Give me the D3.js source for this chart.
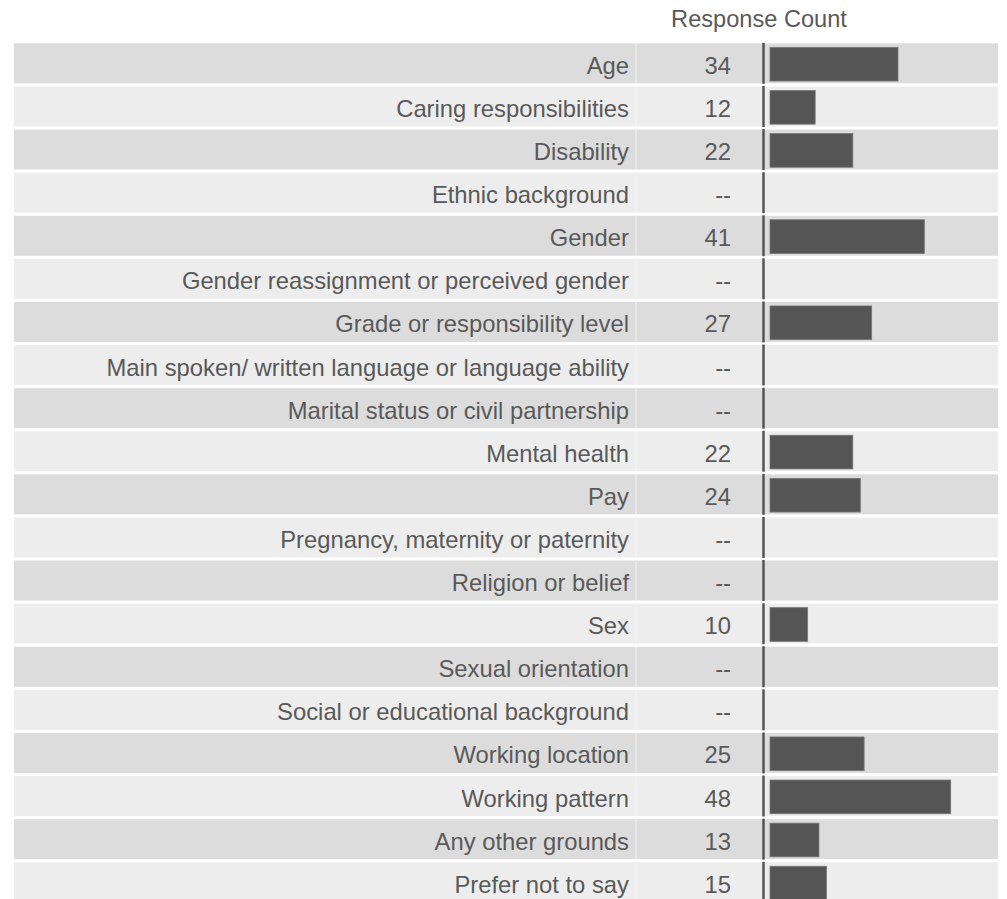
<!DOCTYPE html>
<html>
<head>
<meta charset="utf-8">
<script src="https://cdn.jsdelivr.net/npm/d3@7"></script>
<style>
  html, body { margin: 0; padding: 0; background: #ffffff; }
  svg { display: block; }
  text { font-family: "Liberation Sans", Arial, sans-serif; }
</style>
</head>
<body>
<svg id="chart" width="1007" height="899"></svg>
<script>
const categories = [
  "Age",
  "Caring responsibilities",
  "Disability",
  "Ethnic background",
  "Gender",
  "Gender reassignment or perceived gender",
  "Grade or responsibility level",
  "Main spoken/ written language or language ability",
  "Marital status or civil partnership",
  "Mental health",
  "Pay",
  "Pregnancy, maternity or paternity",
  "Religion or belief",
  "Sex",
  "Sexual orientation",
  "Social or educational background",
  "Working location",
  "Working pattern",
  "Any other grounds",
  "Prefer not to say"
];
const responseCounts = [34, 12, 22, null, 41, null, 27, null, null, 22, 24, null, null, 10, null, null, 25, 48, 13, 15];
const headerLabel = "Response Count";
const missingLabel = "--";

const data = categories.map((c, i) => ({ category: c, value: responseCounts[i], index: i }));

const svg = d3.select("#chart");

const rowLeft = 14, rowRight = 998;
const labelX = 629, numX = 731, axisX = 763.5, barX = 770;
const step = 43.1;
const y0 = 41.8;

const y = d3.scaleBand()
  .domain(categories)
  .range([y0, y0 + step * categories.length])
  .paddingInner(3.1 / step)
  .paddingOuter(3.1 / step / 2);

const x = d3.scaleLinear()
  .domain([0, 48])
  .range([barX, 950.7]);

const textColor = "#595959";
const fontSize = 23.8;

// header
svg.append("text")
  .attr("x", 759)
  .attr("y", 27)
  .attr("text-anchor", "middle")
  .attr("font-size", 23.6)
  .attr("fill", textColor)
  .text(headerLabel);

const rows = svg.append("g").selectAll("g.row")
  .data(data)
  .join("g")
  .attr("class", "row");

// row bands
rows.append("rect")
  .attr("x", rowLeft)
  .attr("y", d => y(d.category))
  .attr("width", rowRight - rowLeft)
  .attr("height", y.bandwidth())
  .attr("fill", d => d.index % 2 === 0 ? "#dcdcdc" : "#ededed");

// subtle column separator
rows.append("line")
  .attr("x1", 636).attr("x2", 636)
  .attr("y1", d => y(d.category))
  .attr("y2", d => y(d.category) + y.bandwidth())
  .attr("stroke", "#f3f3f3")
  .attr("stroke-width", 1);

// category labels
rows.append("text")
  .attr("x", labelX)
  .attr("y", d => y(d.category) + y.bandwidth() / 2 + 10.5)
  .attr("text-anchor", "end")
  .attr("font-size", fontSize)
  .attr("fill", textColor)
  .text(d => d.category);

// value labels
rows.append("text")
  .attr("x", numX)
  .attr("y", d => y(d.category) + y.bandwidth() / 2 + 10.5)
  .attr("text-anchor", "end")
  .attr("font-size", fontSize)
  .attr("fill", textColor)
  .text(d => d.value == null ? missingLabel : d.value);

// axis line segments
rows.append("line")
  .attr("x1", axisX).attr("x2", axisX)
  .attr("y1", d => y(d.category) - 0.5)
  .attr("y2", d => y(d.category) + y.bandwidth() + 0.5)
  .attr("stroke", "#555555")
  .attr("stroke-width", 2.5);

// bars
rows.filter(d => d.value != null).append("rect")
  .attr("x", x(0))
  .attr("y", d => y(d.category) + 4)
  .attr("width", d => x(d.value) - x(0))
  .attr("height", y.bandwidth() - 6.3)
  .attr("fill", "#555555")
  .attr("stroke", "#777777")
  .attr("stroke-width", 0.8);
</script>
</body>
</html>
